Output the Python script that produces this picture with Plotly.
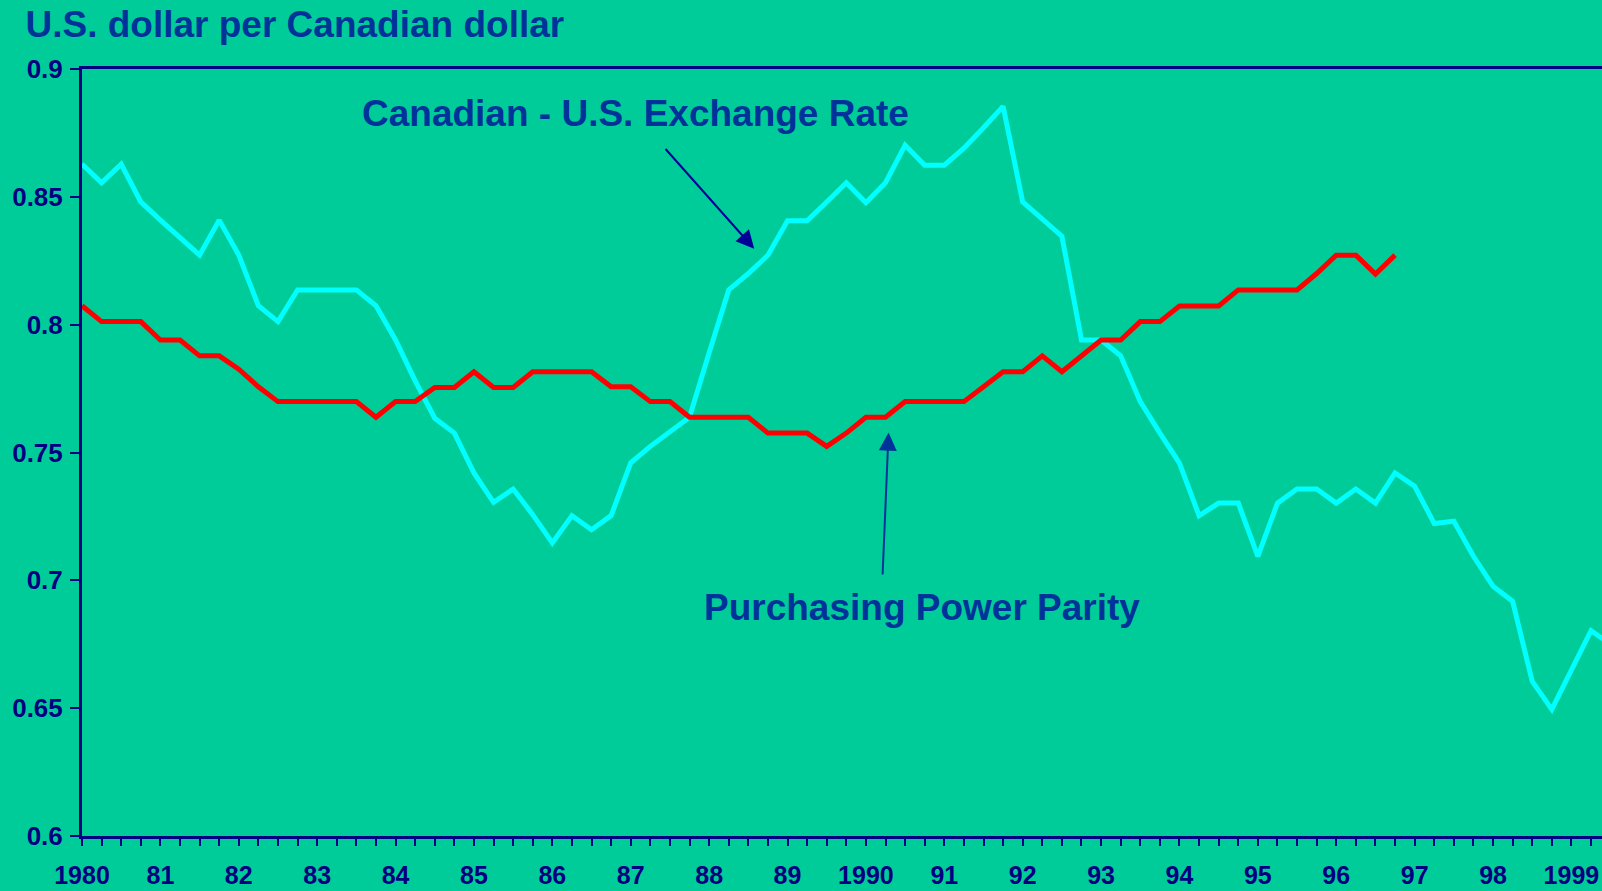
import plotly.graph_objects as go

# ---- data (quarterly, starting 1980 Q1) ----
start_year = 1980
exchange_rate = [
    0.8628, 0.8555, 0.8628, 0.8480, 0.8409, 0.8340, 0.8272, 0.8409,
    0.8272, 0.8074, 0.8012, 0.8136, 0.8136, 0.8136, 0.8136, 0.8074,
    0.7940, 0.7780, 0.7634, 0.7576, 0.7420, 0.7305, 0.7357, 0.7257,
    0.7146, 0.7253, 0.7198, 0.7253, 0.7460, 0.7524, 0.7580, 0.7638,
    0.7890, 0.8136, 0.8200, 0.8272, 0.8406, 0.8406, 0.8480, 0.8555,
    0.8477, 0.8555, 0.8702, 0.8624, 0.8624, 0.8690, 0.8770, 0.8854,
    0.8480, 0.8410, 0.8346, 0.7940, 0.7940, 0.7878, 0.7699, 0.7576,
    0.7458, 0.7253, 0.7302, 0.7302, 0.7094, 0.7302, 0.7357, 0.7357,
    0.7302, 0.7357, 0.7302, 0.7420, 0.7368, 0.7222, 0.7231, 0.7094,
    0.6977, 0.6918, 0.6605, 0.6495, 0.6645, 0.6803, 0.6750,
]
ppp = [
    0.8074, 0.8012, 0.8012, 0.8012, 0.7940, 0.7940, 0.7878, 0.7878,
    0.7826, 0.7757, 0.7699, 0.7699, 0.7699, 0.7699, 0.7699, 0.7638,
    0.7699, 0.7699, 0.7754, 0.7754, 0.7816, 0.7754, 0.7754, 0.7816,
    0.7816, 0.7816, 0.7816, 0.7757, 0.7757, 0.7699, 0.7699, 0.7638,
    0.7638, 0.7638, 0.7638, 0.7576, 0.7576, 0.7576, 0.7524, 0.7576,
    0.7638, 0.7638, 0.7699, 0.7699, 0.7699, 0.7699, 0.7757, 0.7816,
    0.7816, 0.7878, 0.7816, 0.7878, 0.7940, 0.7940, 0.8012, 0.8012,
    0.8073, 0.8073, 0.8073, 0.8136, 0.8136, 0.8136, 0.8136, 0.8200,
    0.8272, 0.8272, 0.8198, 0.8272,
]
year_labels = ["1980", "81", "82", "83", "84", "85", "86", "87", "88", "89",
               "1990", "91", "92", "93", "94", "95", "96", "97", "98", "1999"]
y_ticks = [0.6, 0.65, 0.7, 0.75, 0.8, 0.85, 0.9]
y_tick_text = ["0.6", "0.65", "0.7", "0.75", "0.8", "0.85", "0.9"]

x_ex = [start_year + i / 4 for i in range(len(exchange_rate))]
x_ppp = [start_year + i / 4 for i in range(len(ppp))]

n_quarters = len(year_labels) * 4 - 2
tick_vals = [start_year + q / 4 for q in range(n_quarters)]
tick_text = [year_labels[q // 4] if q % 4 == 0 else "" for q in range(n_quarters)]

BG = "#00CC99"
NAVY = "#000080"
BLUE = "#003399"
FONT = "Liberation Sans, Arial, sans-serif"

fig = go.Figure()
fig.add_trace(go.Scatter(x=x_ex, y=exchange_rate, mode="lines",
                         line=dict(color="#00FFFF", width=5),
                         name="Canadian - U.S. Exchange Rate", showlegend=False))
fig.add_trace(go.Scatter(x=x_ppp, y=ppp, mode="lines",
                         line=dict(color="#FF0000", width=5),
                         name="Purchasing Power Parity", showlegend=False))

fig.update_layout(
    width=1602, height=891,
    paper_bgcolor=BG, plot_bgcolor=BG,
    margin=dict(l=82, r=0, t=69, b=55, autoexpand=False),
    showlegend=False,
    title=dict(text="U.S. dollar per Canadian dollar",
               font=dict(family=FONT, size=37, color=BLUE, weight="bold"),
               xref="container", yref="container",
               x=25.5 / 1602, xanchor="left",
               y=1 - 24 / 891, yanchor="middle"),
    xaxis=dict(range=[1980, 1999.39], tickmode="array",
               tickvals=tick_vals, ticktext=tick_text,
               ticks="outside", ticklen=7, tickwidth=2, tickcolor=NAVY,
               showline=True, linecolor=NAVY, linewidth=3, mirror=True,
               showgrid=False, zeroline=False, automargin=False,
               tickfont=dict(family=FONT, size=25, color=NAVY, weight="bold"),
               ticklabelstandoff=8),
    yaxis=dict(range=[0.6, 0.9], tickmode="array",
               tickvals=y_ticks, ticktext=y_tick_text,
               ticks="outside", ticklen=9, tickwidth=2, tickcolor=NAVY,
               showline=True, linecolor=NAVY, linewidth=3, mirror=False,
               showgrid=False, zeroline=False, automargin=False,
               tickfont=dict(family=FONT, size=26, color=NAVY, weight="bold"),
               ticklabelstandoff=2),
)

fig.add_annotation(x=1987.06, y=0.8825, xref="x", yref="y",
                   text="Canadian - U.S. Exchange Rate", showarrow=False,
                   font=dict(family=FONT, size=37, color=BLUE, weight="bold"),
                   xanchor="center", yanchor="middle")
fig.add_annotation(x=1990.72, y=0.6895, xref="x", yref="y",
                   text="Purchasing Power Parity", showarrow=False,
                   font=dict(family=FONT, size=37, color=BLUE, weight="bold"),
                   xanchor="center", yanchor="middle")
# arrows
fig.add_annotation(x=1988.575, y=0.8297, ax=1987.427, ay=0.8693,
                   xref="x", yref="y", axref="x", ayref="y",
                   text="", showarrow=True, arrowhead=2, arrowsize=1.8,
                   arrowwidth=2, arrowcolor="#000099", standoff=0)
fig.add_annotation(x=1990.289, y=0.7578, ax=1990.212, ay=0.7017,
                   xref="x", yref="y", axref="x", ayref="y",
                   text="", showarrow=True, arrowhead=2, arrowsize=1.8,
                   arrowwidth=2, arrowcolor=BLUE, standoff=0)

fig.write_html("out.html",
               config={"displayModeBar": False},
               post_script="document.body.style.margin='0';"
                           "document.body.style.overflow='hidden';")
